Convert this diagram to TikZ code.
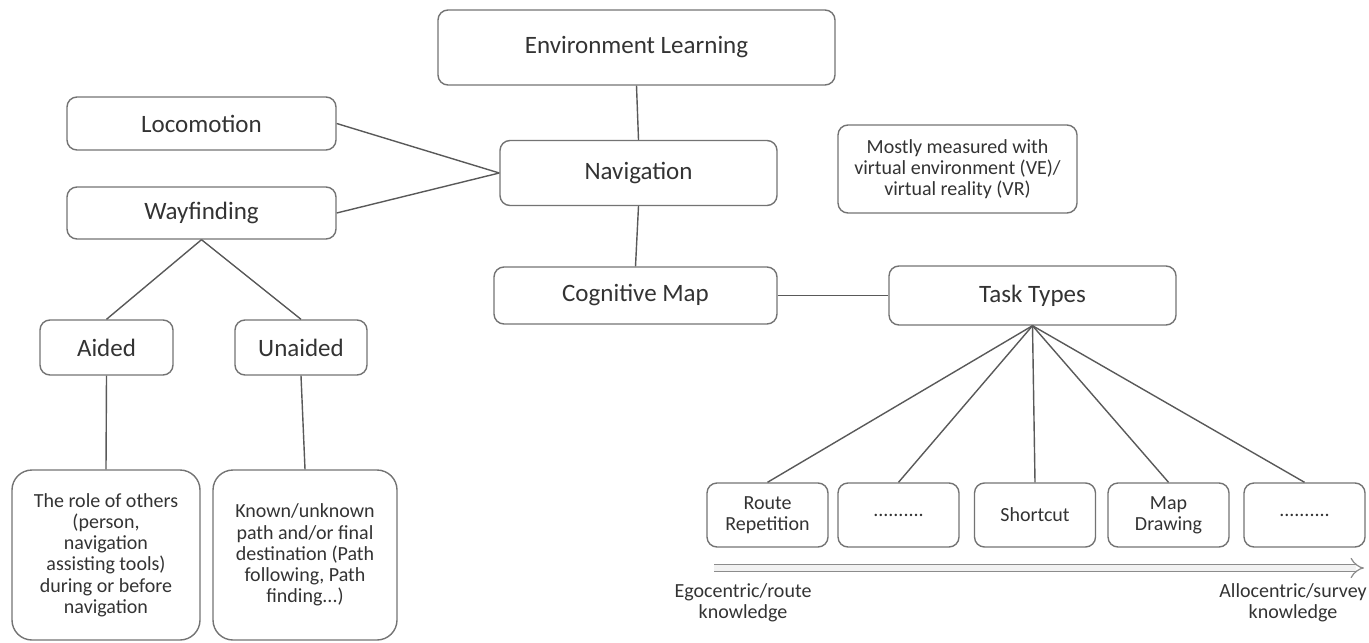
\documentclass[tikz,border=0pt]{standalone}
\usepackage{fontspec}
\setmainfont{Carlito}
\usepackage{tikz}
\usetikzlibrary{arrows.meta}

\begin{document}
\begin{tikzpicture}[x=0.5pt, y=-0.5pt,
	box/.style={draw=black!55, line width=0.7pt, rounded corners=5pt, align=center,
		text=black!80, inner sep=1pt, font=\fontsize{12.5}{15}\selectfont},
	smallbox/.style={box, font=\fontsize{10}{10.6}\selectfont},
	tallbox/.style={smallbox, rounded corners=10pt},
	link/.style={draw=black!65, line width=0.7pt}]
		%% one unit is one pixel of the reference, y grows downwards
		\useasboundingbox (0,0) rectangle (1369,642);

		%% Top of the tree
		\node[box, minimum width=198.5pt, minimum height=37.5pt] (envl) at (636.5,47.5) {Environment Learning};
		\node[box, minimum width=138.5pt, minimum height=32.5pt] (nav) at (638.5,173) {Navigation};
		\node[box, minimum width=141.5pt, minimum height=28.5pt] (cogmap) at (635.5,295.5) {Cognitive Map};
		\node[box, minimum width=143.5pt, minimum height=29.5pt] (tasks) at (1032.5,295.5) {Task Types};
		\node[smallbox, minimum width=119.5pt, minimum height=44pt] (vr) at (957.5,169)
		{Mostly measured with\\virtual environment (VE)/\\virtual reality (VR)};

		%% Left branch
		\node[box, minimum width=134.5pt, minimum height=26.5pt] (loco) at (201.5,123.5) {Locomotion};
		\node[box, minimum width=134.5pt, minimum height=26pt] (wayf) at (201.5,213) {Wayfinding};
		\node[box, minimum width=66.5pt, minimum height=27.5pt] (aided) at (106.5,347.5) {Aided};
		\node[box, minimum width=66pt, minimum height=27.5pt] (unaided) at (301,347.5) {Unaided};
		\node[tallbox, minimum width=94pt, minimum height=85pt] (others) at (106,555)
		{The role of others\\(person,\\navigation\\assisting tools)\\during or before\\navigation};
		\node[tallbox, minimum width=92pt, minimum height=85pt] (paths) at (305,555)
		{Known/unknown\\path and/or final\\destination (Path\\following, Path\\finding...)};

		%% Task types
		\node[smallbox, minimum width=60.5pt, minimum height=32pt] (t1) at (767.5,515) {Route\\Repetition};
		\node[smallbox, minimum width=60.5pt, minimum height=32pt] (t2) at (898.5,515) {..........};
		\node[smallbox, minimum width=60.5pt, minimum height=32pt] (t3) at (1035,515) {Shortcut};
		\node[smallbox, minimum width=60.5pt, minimum height=32pt] (t4) at (1168.5,515) {Map\\Drawing};
		\node[smallbox, minimum width=60.5pt, minimum height=32pt] (t5) at (1304.5,515) {..........};

		% Connectors
		\draw[link] (envl.south) -- (nav.north);
		\draw[link] (loco.east) -- (nav.west);
		\draw[link] (wayf.east) -- (nav.west);
		\draw[link] (wayf.south) -- (aided.north);
		\draw[link] (wayf.south) -- (unaided.north);
		\draw[link] (aided.south) -- (others.north);
		\draw[link] (unaided.south) -- (paths.north);
		\draw[link] (nav.south) -- (cogmap.north);
		\draw[link] (cogmap.east) -- (tasks.west);
		\foreach \t in {t1,t2,t3,t4,t5}
			\draw[link] (tasks.south) -- (\t.north);

		% Knowledge axis
		\coordinate (egoend) at (714,568);
		\coordinate (alloend) at (1364,568);
		\draw[black!45, line width=0.6pt, double=black!5, double distance=3pt, -{Implies}] (egoend) -- (alloend);
		\node[align=center, text=black!80, font=\fontsize{10}{10.6}\selectfont] (ego) at (743,603)
		{Egocentric/route\\knowledge};
		\node[align=center, text=black!80, font=\fontsize{10}{10.6}\selectfont] (allo) at (1293,603)
		{Allocentric/survey\\knowledge};
	\end{tikzpicture}
\end{document}
